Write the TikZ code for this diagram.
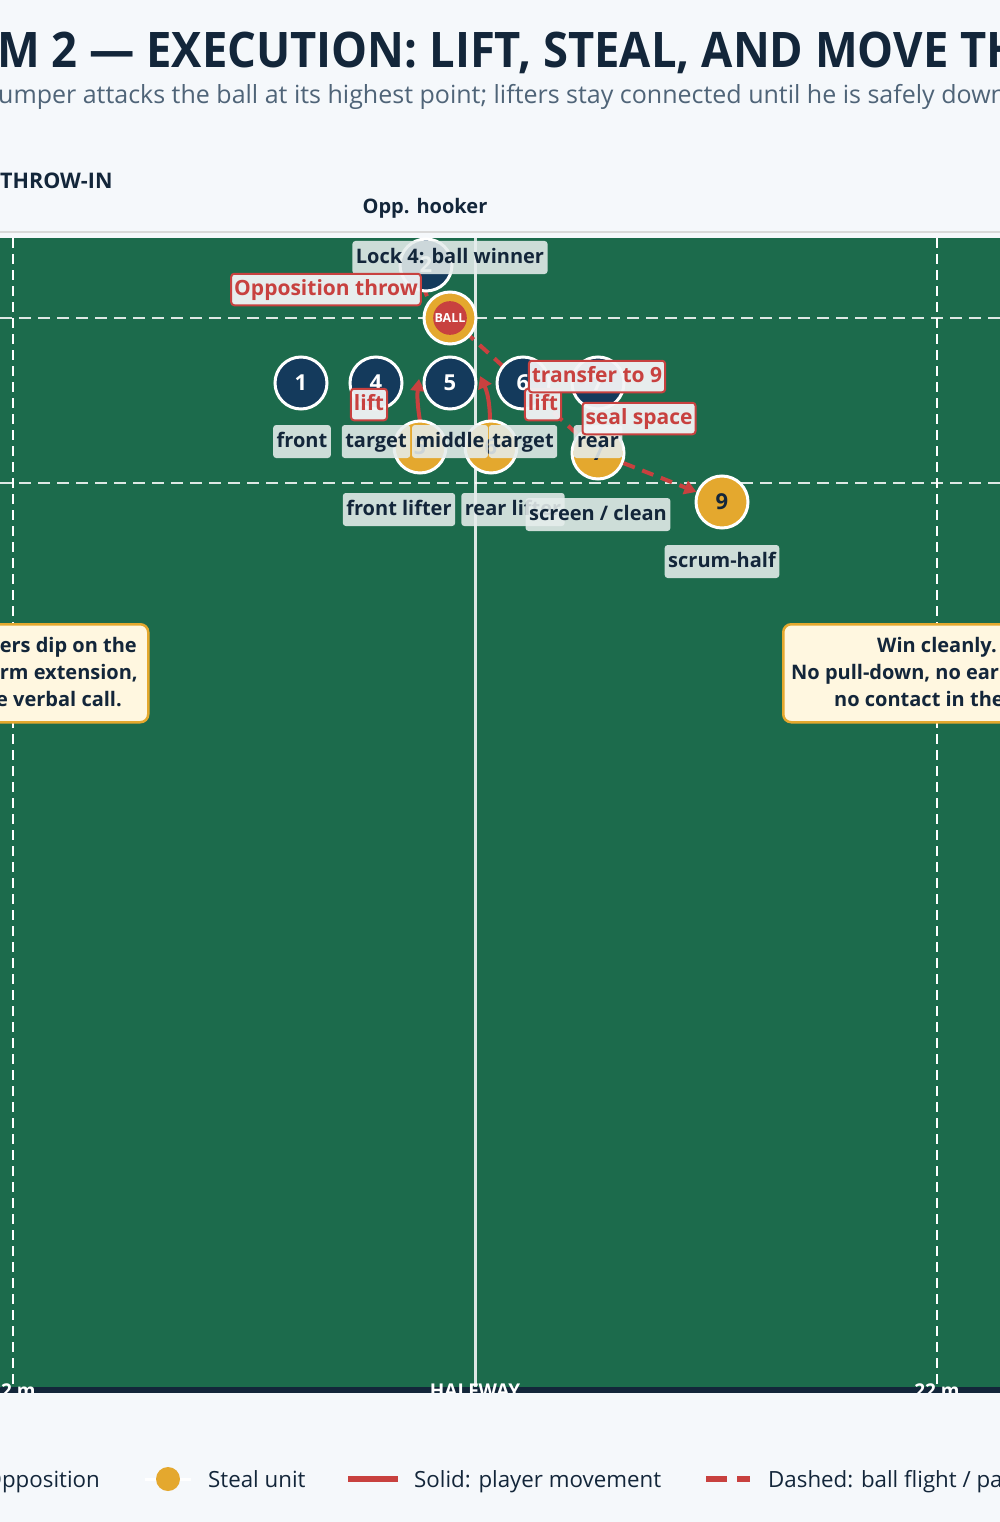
\documentclass[tikz,border=0pt]{standalone}
\usepackage{fontspec}
\setmainfont{Open Sans}
\newfontfamily\titlefont{Open Sans}[FakeStretch=0.925]
\usetikzlibrary{arrows.meta}
\definecolor{bgc}{HTML}{F5F8FB}
\definecolor{ink}{HTML}{13263A}
\definecolor{subc}{HTML}{4F6478}
\definecolor{fieldc}{HTML}{1C6B4C}
\definecolor{navy}{HTML}{143A5C}
\definecolor{gold}{HTML}{E4A82E}
\definecolor{redc}{HTML}{C8413F}
\definecolor{labbg}{HTML}{E6EDEC}
\definecolor{rlabbg}{HTML}{F2F4F6}
\definecolor{cream}{HTML}{FFF7E0}
\tikzset{
  player/.style={circle, minimum size=52, inner sep=0, line width=3, draw=white, font=\fontsize{22}{24}\selectfont\bfseries},
  opp/.style={player, fill=navy, text=white},
  steal/.style={player, fill=gold, text=ink},
  lab/.style={fill=labbg, fill opacity=0.88, text opacity=1, rounded corners=3, text=ink, font=\fontsize{20}{24}\selectfont\bfseries, inner xsep=3.5, inner ysep=7, text height=15, text depth=4, yshift=-1.5},
  rlab/.style={draw=redc, line width=2, fill=rlabbg, fill opacity=0.95, text opacity=1, draw opacity=1, rounded corners=3, text=redc, font=\fontsize{21}{25}\selectfont\bfseries, inner xsep=3, inner ysep=5.5, text height=16, text depth=4.5, yshift=-1.5},
  movement/.style={draw=redc, line width=4},
  flight/.style={draw=redc, line width=4, dash pattern=on 12pt off 8pt},
  note/.style={draw=gold, line width=2.5, fill=cream, rounded corners=8},
  notetext/.style={text=ink, font=\fontsize{20}{24}\selectfont\bfseries, inner sep=0},
  legtext/.style={text=ink, font=\fontsize{22.3}{26}\selectfont, inner sep=0, anchor=base west},
  fieldlab/.style={text=white, font=\fontsize{19}{22}\selectfont\bfseries, inner sep=0},
}
\begin{document}
\begin{tikzpicture}[x=1pt,y=-1pt]
\useasboundingbox (0,0) rectangle (1000,1522);
\clip (0,0) rectangle (1000,1522);
\fill[bgc] (0,0) rectangle (1000,1522);

% titles
\node[anchor=base west, inner sep=0, text=ink, font=\titlefont\fontsize{49}{56}\selectfont\bfseries] (title) at (-3,68) {M 2 — EXECUTION: LIFT, STEAL, AND MOVE THE};
\node[anchor=base west, inner sep=0, text=subc, font=\fontsize{25}{30}\selectfont] (subtitle) at (-2,104) {umper attacks the ball at its highest point; lifters stay connected until he is safely down};
\node[anchor=base west, inner sep=0, text=ink, font=\fontsize{21.5}{26}\selectfont\bfseries] (throwin) at (0,189) {THROW-IN};
\node[anchor=base, inner sep=0, text=ink, font=\fontsize{20}{24}\selectfont\bfseries] (hookerlab) at (425,214) {Opp. hooker};

% field
\draw[line width=1.5, draw=black!15] (0,232) -- (1000,232);
\fill[fieldc] (0,238) rectangle (1000,1388);
\draw[white, line width=2, dash pattern=on 10pt off 6pt] (13,238) -- (13,1388);
\draw[white, line width=2, dash pattern=on 10pt off 6pt] (937,238) -- (937,1388);
\draw[white, opacity=0.85, line width=3] (475,238) -- (475,1388);
\draw[white, opacity=0.85, line width=2, dash pattern=on 12pt off 7pt] (0,318) -- (1000,318);
\draw[white, opacity=0.85, line width=2, dash pattern=on 12pt off 7pt] (0,483) -- (1000,483);
\fill[ink] (0,1387) rectangle (1000,1393);
\node[fieldlab, anchor=base] (l22a) at (13,1397) {22 m};
\node[fieldlab, anchor=base] (lhalf) at (475,1397) {HALFWAY};
\node[fieldlab, anchor=base] (l22b) at (937,1397) {22 m};
\fill[bgc] (0,1393) rectangle (1000,1522);

% positions
\coordinate (liftA) at (419,379);
\coordinate (liftB) at (480,376);
\coordinate (phook) at (426,265);
\coordinate (pjump) at (450,318);
\coordinate (pseven) at (598,453);

% connectors (under the players)
\draw[flight] (phook) to[bend right=45] (pjump);
\draw[flight] (pjump) -- (pseven);
\draw[movement, -{Triangle[length=12pt,width=14pt]}] (420,421) to[bend left=8] (liftA);
\draw[movement, -{Triangle[length=12pt,width=14pt]}] (490,421) to[bend right=12] (liftB);

% opposition
\node[opp] (o2) at (phook) {2};
\node[opp] (o1) at (301,383) {1};
\node[opp] (o4) at (376,383) {4};
\node[opp] (o5) at (450,383) {5};
\node[opp] (o6) at (523,383) {6};
\node[opp] (o7) at (598,383) {7};

% steal unit
\node[steal] (s4) at (pjump) {};
\node[circle, fill=redc, draw=redc, line width=1.5, minimum size=23, inner sep=0, text=white, font=\fontsize{12.5}{13}\selectfont\bfseries] (ball) at (s4) {BALL};
\node[steal] (s5) at (420,447) {5};
\node[steal] (s6) at (491,447) {6};
\node[steal] (s7) at (pseven) {7};
\node[steal] (s9) at (722,502) {9};

\draw[flight, -{Triangle[length=12pt,width=14pt]}] (s7) -- (s9);

% labels
\node[lab] (labhook) at (450,256) {Lock 4: ball winner};
\node[lab] (labfront) at (302,440) {front};
\node[lab] (labt1) at (376,440) {target};
\node[lab] (labmid) at (450,440) {middle};
\node[lab] (labt2) at (523,440) {target};
\node[lab] (labrear) at (598,440) {rear};
\node[lab] (labfl) at (399,508) {front lifter};
\node[lab] (labrl) at (513,508) {rear lifter};
\node[lab] (labsc) at (598,513) {screen / clean};
\node[lab] (labsh) at (722,560) {scrum-half};

% red labels
\node[rlab] (rthrow) at (326,288) {Opposition throw};
\node[rlab] (rlift1) at (369,403) {lift};
\node[rlab] (rlift2) at (543,403) {lift};
\node[rlab] (rtrans) at (597,375) {transfer to 9};
\node[rlab] (rseal) at (639,417) {seal space};

% notes
\node[note, anchor=north west, minimum width=180, minimum height=98] (lnote) at (-33,623) {};
\node[notetext, anchor=base east] (ln1) at (137,652) {ers dip on the};
\node[notetext, anchor=base east] (ln2) at (138,679) {rm extension,};
\node[notetext, anchor=base east] (ln3) at (122,706) {e verbal call.};
\node[note, anchor=north west, minimum width=260, minimum height=98] (rnote) at (782,623) {};
\node[notetext, anchor=base west] (rn1) at (877,652) {Win cleanly.};
\node[notetext, anchor=base west] (rn2) at (791,679) {No pull-down, no early};
\node[notetext, anchor=base west] (rn3) at (834,706) {no contact in the air.};

% legend
\node[legtext, anchor=base east] (legopp) at (100,1487) {Opposition};
\coordinate (lgA) at (145,1479);
\coordinate (lgB) at (191,1479);
\draw[white, line width=3] (lgA) -- (lgB);
\node[circle, fill=gold, minimum size=24, inner sep=0] (legdot) at (168,1479) {};
\node[legtext] (legsteal) at (208,1487) {Steal unit};
\coordinate (lsA) at (348,1479);
\coordinate (lsB) at (398,1479);
\draw[redc, line width=6] (lsA) -- (lsB);
\node[legtext] (legsolid) at (414,1487) {Solid: player movement};
\coordinate (ldA) at (706,1479);
\coordinate (ldB) at (750,1479);
\draw[redc, line width=6, dash pattern=on 21pt off 10pt] (ldA) -- (ldB);
\node[legtext] (legdash) at (768,1487) {Dashed: ball flight / pass};
\end{tikzpicture}
\end{document}
